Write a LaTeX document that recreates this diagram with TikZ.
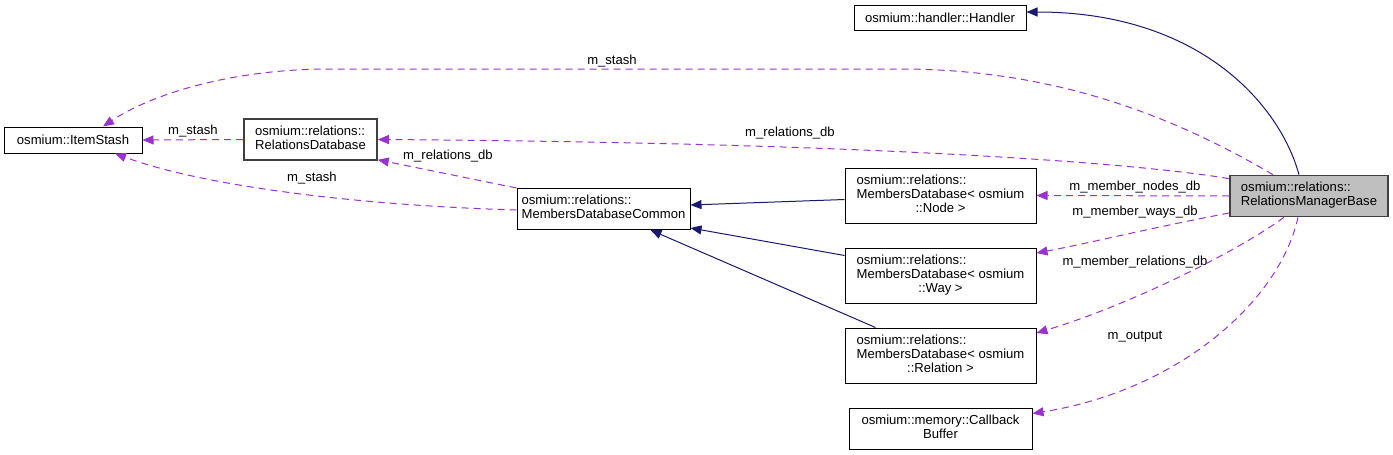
\documentclass[tikz,border=0pt]{standalone}
\usepackage{fontspec}
\setmainfont{Liberation Sans}
\usepackage{xcolor}
\usepackage{tikz}
\usetikzlibrary{arrows.meta}

\definecolor{edgenavy}{HTML}{191970}
\definecolor{edgepurple}{HTML}{9A32CD}
\definecolor{boxgray}{HTML}{BFBFBF}
\definecolor{boxdark}{HTML}{404040}

\newcommand{\dxfont}{\fontsize{13.1}{14}\selectfont}
\newcommand{\lines}[1]{\begin{tabular}{@{}l@{}}#1\end{tabular}}
\newcommand{\lastc}[1]{\multicolumn{1}{@{}c@{}}{#1}}

\begin{document}
\begin{tikzpicture}[x=1pt, y=-1pt,
    cls/.style={draw, rectangle, line width=1pt, inner xsep=2pt, inner ysep=6.5pt, font=\dxfont},
    clsdark/.style={cls, draw=boxdark, line width=1.6pt},
    inherits/.style={draw=edgenavy, line width=1pt, -{Triangle[length=11pt,width=9pt]}},
    member/.style={draw=edgepurple, line width=1pt, dash pattern=on 7pt off 5pt, -{Triangle[length=11pt,width=9pt]}, fill=none},
    lbl/.style={font=\dxfont, inner sep=0pt}]
    \useasboundingbox (0,0) rectangle (1393,455);

    \node (handler) [cls, minimum width=172pt, minimum height=25pt] at (940,17.5) {osmium::handler::Handler};
    \node (stash) [cls, minimum width=138pt, minimum height=26pt] at (73,140) {osmium::ItemStash};
    \node (reldb) [clsdark, minimum width=133pt, minimum height=40pt] at (310.5,139.5) {\lines{osmium::relations::\\RelationsDatabase}};
    \node (mdbc) [cls, minimum width=173pt, minimum height=40pt] at (603.5,209) {\lines{osmium::relations::\\MembersDatabaseCommon}};
    \node (mdbnode) [cls, minimum width=191pt, minimum height=55pt] at (940.5,195.5) {\lines{osmium::relations::\\MembersDatabase< osmium\\\lastc{::Node >}}};
    \node (mdbway) [cls, minimum width=191pt, minimum height=55pt] at (940.5,275.5) {\lines{osmium::relations::\\MembersDatabase< osmium\\\lastc{::Way >}}};
    \node (mdbrel) [cls, minimum width=191pt, minimum height=55pt] at (940.5,355.5) {\lines{osmium::relations::\\MembersDatabase< osmium\\\lastc{::Relation >}}};
    \node (cbbuf) [cls, minimum width=183pt, minimum height=41pt] at (940.5,428.5) {\lines{osmium::memory::Callback\\\lastc{Buffer}}};
    \node (rmb) [clsdark, fill=boxgray, minimum width=158pt, minimum height=40pt] at (1309,196) {\lines{osmium::relations::\\RelationsManagerBase}};

    \node (lstashtop) [lbl] at (612,61) {m\_stash};
    \node (lreldbtop) [lbl] at (790,133) {m\_relations\_db};
    \node (lstashrel) [lbl] at (193,131) {m\_stash};
    \node (lstashmdbc) [lbl] at (312,178) {m\_stash};
    \node (lreldbmdbc) [lbl] at (448,156) {m\_relations\_db};
    \node (lnodes) [lbl] at (1135,187) {m\_member\_nodes\_db};
    \node (lways) [lbl] at (1135,212) {m\_member\_ways\_db};
    \node (lrels) [lbl] at (1135,262) {m\_member\_relations\_db};
    \node (loutput) [lbl] at (1135,337) {m\_output};

    \draw[inherits] ([xshift=-10pt]rmb.north) .. controls (1280,105) and (1200,12) .. ([yshift=5.5pt]handler.east);
    \draw[inherits] ([yshift=-4pt]mdbnode.west) -- ([yshift=4pt]mdbc.east);
    \draw[inherits] ([yshift=20pt]mdbway.west) -- ([yshift=2pt]mdbc.south east);
    \draw[inherits] ([xshift=-65pt]mdbrel.north) -- ([xshift=47pt]mdbc.south);

    \draw[member] ([xshift=-36pt]rmb.north) .. controls (1180,120) and (1060,69) .. (900,69) -- (330,69) .. controls (230,69) and (150,95) .. ([xshift=30pt]stash.north);
    \draw[member] ([yshift=-4pt]rmb.north west) .. controls (1150,165) and (900,143) .. (reldb.east);
    \draw[member] (reldb.west) -- (stash.east);
    \draw[member] ([yshift=-1pt]mdbc.west) .. controls (350,205) and (200,185) .. ([xshift=42pt]stash.south);
    \draw[member] (mdbc.north west) -- ([yshift=1pt]reldb.south east);
    \draw[member] (rmb.west) -- (mdbnode.east);
    \draw[member] ([yshift=-17pt]rmb.west) .. controls (1150,228) and (1090,243) .. ([yshift=22.5pt]mdbway.east);
    \draw[member] ([xshift=-25pt]rmb.south) .. controls (1240,250) and (1130,305) .. ([yshift=22.5pt]mdbrel.east);
    \draw[member] ([xshift=-11pt]rmb.south) .. controls (1280,300) and (1180,390) .. ([yshift=15pt]cbbuf.east);
\end{tikzpicture}
\end{document}
